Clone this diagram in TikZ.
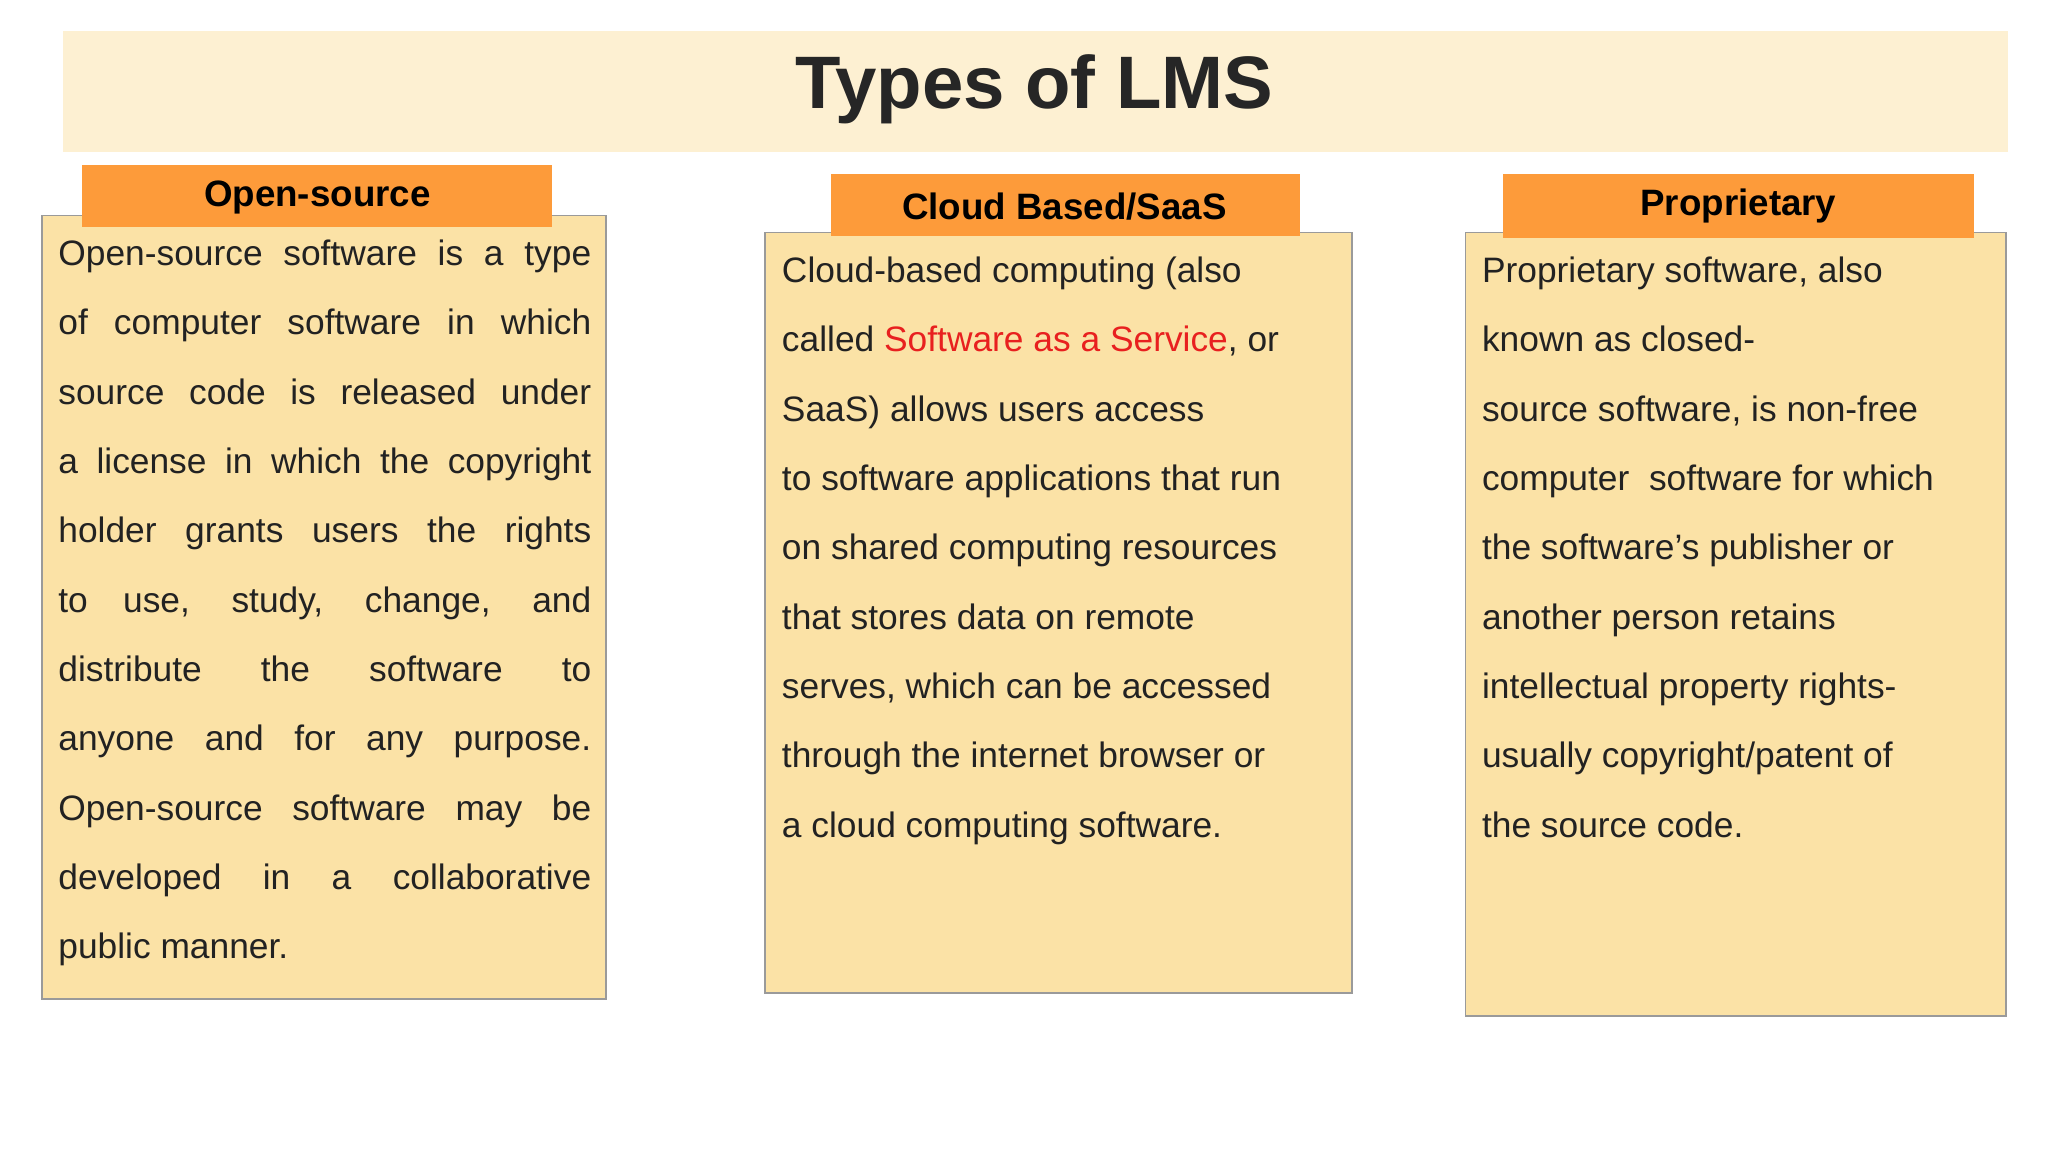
\documentclass[tikz,border=0pt]{standalone}
\usepackage{fontspec}
\setmainfont{Liberation Sans}
\definecolor{band}{HTML}{FDF0D2}
\definecolor{boxfill}{HTML}{FBE2A6}
\definecolor{head}{HTML}{FD9B3A}
\definecolor{bord}{HTML}{9A9A9A}
\definecolor{red1}{HTML}{E8201F}
\definecolor{ink}{HTML}{262626}
\newcommand{\jl}[1]{\makebox[40.8mm][s]{#1}\\}
\begin{document}
\begin{tikzpicture}[x=0.1mm,y=-0.1mm,
  body/.style={draw=bord,line width=0.4pt,fill=boxfill},
  hdr/.style={fill=head,font=\fontsize{8}{9}\selectfont\bfseries,text=black},
  txt/.style={anchor=north west,inner sep=0pt,align=left,text=ink!90!black,font=\fontsize{7.7}{15.1}\selectfont}]
\useasboundingbox[fill=white] (0,0) rectangle (1568,882);
\fill[band] (48,24) rectangle (1537,116);
\node[font=\fontsize{16.2}{18}\selectfont\bfseries,text=ink] (title) at (792,68) {Types of LMS};
% boxes
\draw[body] (32,165) rectangle (464,765);
\draw[body] (586,178) rectangle (1035,760);
\draw[body] (1122,178) rectangle (1536,778);
\fill[head] (63,126) rectangle (423,174);
\fill[head] (636,133) rectangle (995,181);
\fill[head] (1151,133) rectangle (1511,182);
\node[hdr,fill=none] (h1) at (243,151) {Open-source};
\node[hdr,fill=none] (h2) at (815,158) {Cloud Based/SaaS};
\node[hdr,fill=none] (h3) at (1331,158) {Proprietary};
\node[txt] (t1) at (44,183) {\jl{Open-source software is a type}\jl{of computer software in which}\jl{source code is released under}\jl{a license in which the copyright}\jl{holder grants users the rights}\jl{to use, study, change, and}\jl{distribute the software to}\jl{anyone and for any purpose.}\jl{Open-source software may be}\jl{developed in a collaborative}public manner.};
\node[txt] (t2) at (598,196) {Cloud-based computing (also\\called \textcolor{red1}{Software as a Service}, or\\SaaS) allows users access\\to software applications that run\\on shared computing resources\\that stores data on remote\\serves, which can be accessed\\through the internet browser or\\a cloud computing software.};
\node[txt] (t3) at (1134,196) {Proprietary software, also\\known as closed-\\source software, is non-free\\computer\ \ software for which\\the software's publisher or\\another person retains\\intellectual property rights-\\usually copyright/patent of\\the source code.};
\end{tikzpicture}
\end{document}
